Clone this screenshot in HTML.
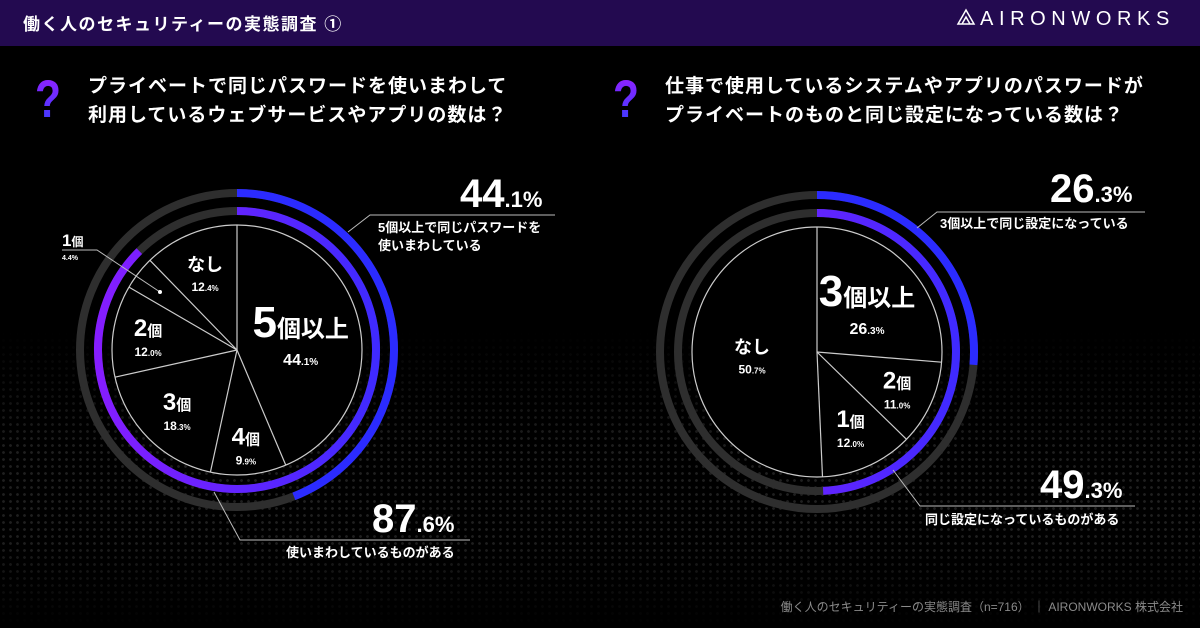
<!DOCTYPE html>
<html><head><meta charset="utf-8">
<style>
html,body{margin:0;padding:0;background:#000;}
body{width:1200px;height:628px;overflow:hidden;position:relative;font-family:"Liberation Sans","Noto Sans CJK JP",sans-serif;color:#fff;}
#hdr{position:absolute;left:0;top:0;width:1200px;height:46px;background:#230a50;}
#bgdots{position:absolute;left:0;top:330px;width:1200px;height:298px;
background-image:radial-gradient(circle,#3a3a3a 1.2px,transparent 1.6px);background-size:7px 7px;opacity:.55;
-webkit-mask-image:linear-gradient(to bottom,transparent,#000 40%,#000 70%,transparent);}
svg{position:absolute;left:0;top:0;}
</style></head><body>
<div id="bgdots"></div>
<div id="hdr"></div>
<svg id="s" width="1200" height="628">
<defs>
<linearGradient id="qg" x1="0" y1="0" x2="0" y2="1"><stop offset="0" stop-color="#9b1dff"/><stop offset="1" stop-color="#3140ff"/></linearGradient>
<linearGradient id="rg" gradientUnits="userSpaceOnUse" x1="-160" y1="0" x2="160" y2="0"><stop offset="0" stop-color="#8a1cff"/><stop offset="1" stop-color="#3a2bff"/></linearGradient>
</defs>
<text x="23" y="30" font-size="17" font-weight="bold" letter-spacing="1.5" fill="#fff">働く人のセキュリティーの実態調査 ①</text>
<g>
<path d="M958 24 L966 10 L974 24 Z M962 24 L966 17 L970 24" fill="none" stroke="#fff" stroke-width="1.5"/>
<text x="980" y="25" font-size="20" fill="#fff" letter-spacing="5.6">AIRONWORKS</text>
</g>
<text x="0" y="0" font-size="50" font-weight="bold" fill="url(#qg)" transform="translate(35,117) scale(0.85,1.05)">?</text>
<text x="88" y="92" font-size="19" font-weight="bold" fill="#fff" letter-spacing="1">プライベートで同じパスワードを使いまわして</text>
<text x="88" y="121" font-size="19" font-weight="bold" fill="#fff" letter-spacing="1">利用しているウェブサービスやアプリの数は？</text>
<text x="0" y="0" font-size="50" font-weight="bold" fill="url(#qg)" transform="translate(613,117) scale(0.85,1.05)">?</text>
<text x="665" y="92" font-size="19" font-weight="bold" fill="#fff" letter-spacing="1">仕事で使用しているシステムやアプリのパスワードが</text>
<text x="665" y="121" font-size="19" font-weight="bold" fill="#fff" letter-spacing="1">プライベートのものと同じ設定になっている数は？</text>
<g id="L" transform="translate(237,350)"></g>
<g id="R" transform="translate(817,352)"></g>
<g fill="none" stroke="#bbb" stroke-width="1">
<path d="M348 232 L370 215 L555 215"/>
<path d="M214 492 L240 540 L470 540"/>
<path d="M160 292 L97 250 L62 250"/>
<path d="M917 228 L937 212 L1145 212"/>
<path d="M893 470 L920 506 L1135 506"/>
</g>
<circle cx="160" cy="292" r="2" fill="#fff"/>
<g fill="#fff" font-weight="bold">
<text x="460" y="207" font-size="40"><tspan>44</tspan><tspan font-size="22">.1%</tspan></text>
<text x="378" y="232" font-size="13">5個以上で同じパスワードを</text>
<text x="378" y="250" font-size="13">使いまわしている</text>
<text x="372" y="532" font-size="40"><tspan>87</tspan><tspan font-size="22">.6%</tspan></text>
<text x="286" y="557" font-size="13">使いまわしているものがある</text>
<text x="62" y="246" font-size="17">1<tspan font-size="12">個</tspan></text>
<text x="62" y="260" font-size="7">4.4%</text>
<text x="1050" y="202" font-size="40"><tspan>26</tspan><tspan font-size="22">.3%</tspan></text>
<text x="940" y="228" font-size="13">3個以上で同じ設定になっている</text>
<text x="1040" y="498" font-size="40"><tspan>49</tspan><tspan font-size="22">.3%</tspan></text>
<text x="925" y="524" font-size="13">同じ設定になっているものがある</text>
</g>
<text x="1183" y="611" text-anchor="end" font-size="12" fill="#8a8a8a">働く人のセキュリティーの実態調査（n=716） ｜ AIRONWORKS 株式会社</text>
</svg>
<script>
const leftCats=["5","4","3","2","1","なし"];
const leftSuffix=["個以上","個","個","個","個",""];
const leftVals=[44.1,9.9,18.3,12.0,4.4,12.4];
const leftOuter=44.1;
const leftInner=87.6;
const rightCats=["3","2","1","なし"];
const rightSuffix=["個以上","個","個",""];
const rightVals=[26.3,11.0,12.0,50.7];
const rightOuter=26.3;
const rightInner=49.3;
const NS="http://www.w3.org/2000/svg";
function mk(t,a){const e=document.createElementNS(NS,t);for(const k in a)e.setAttribute(k,a[k]);return e;}
function pt(r,f){const a=f*2*Math.PI;return [r*Math.sin(a),-r*Math.cos(a)];}
function arc(r,f0,f1){const p0=pt(r,f0),p1=pt(r,f1);const lg=(f1-f0)>0.5?1:0;return `M${p0[0]} ${p0[1]} A${r} ${r} 0 ${lg} 1 ${p1[0]} ${p1[1]}`;}
function draw(id,cats,suf,vals,outer,inner,big,lr,skip){
 const g=document.getElementById(id);
 const R=125;
 const c1=mk('circle',{cx:0,cy:0,r:157,fill:'none',stroke:'#2e2e2e','stroke-width':8});
 g.appendChild(c1);
 const c2=mk('circle',{cx:0,cy:0,r:139,fill:'none',stroke:'#2e2e2e','stroke-width':8});
 g.appendChild(c2);
 const a1=mk('path',{d:arc(157,0,outer/100),fill:'none',stroke:'#2b2bff','stroke-width':8});
 g.appendChild(a1);
 const a2=mk('path',{d:arc(139,0,inner/100),fill:'none',stroke:'url(#rg)','stroke-width':8});
 g.appendChild(a2);
 const pc=mk('circle',{cx:0,cy:0,r:R,fill:'#000',stroke:'#ccc','stroke-width':1.2});
 g.appendChild(pc);
 const tot=vals.reduce((a,b)=>a+b,0);let cum=0;
 vals.forEach((v,i)=>{
  const f0=cum/tot;cum+=v;const f1=cum/tot;
  const p=pt(R,f0);
  const ln=mk('line',{x1:0,y1:0,x2:p[0],y2:p[1],stroke:'#ccc','stroke-width':1.2});
  g.appendChild(ln);
  if(skip.includes(i))return;
  const m=pt(lr[i],(f0+f1)/2);
  const isBig=i===0;
  const t=mk('text',{x:m[0],y:m[1],'text-anchor':'middle',fill:'#fff','font-weight':'bold','font-size':isBig?44:(cats[i].length>1?18:24)});
  
  t.textContent=cats[i];
  if(suf[i]){const ts=mk('tspan',{'font-size':isBig?24:15});ts.textContent=suf[i];t.appendChild(ts);}
  g.appendChild(t);
  const s=v.toFixed(1).split('.');
  const t2=mk('text',{x:m[0],y:m[1]+(isBig?28:20),'text-anchor':'middle',fill:'#fff','font-weight':'bold','font-size':isBig?16:12});
  
  t2.textContent=s[0];const ts2=mk('tspan',{'font-size':isBig?10:8});ts2.textContent='.'+s[1]+'%';t2.appendChild(ts2);
  g.appendChild(t2);
 });
}
draw('L',leftCats,leftSuffix,leftVals,leftOuter,leftInner,0,[65,95,85,90,0,85],[4]);
draw('R',rightCats,rightSuffix,rightVals,rightOuter,rightInner,0,[68,88,82,65],[]);
</script>
</body></html>
